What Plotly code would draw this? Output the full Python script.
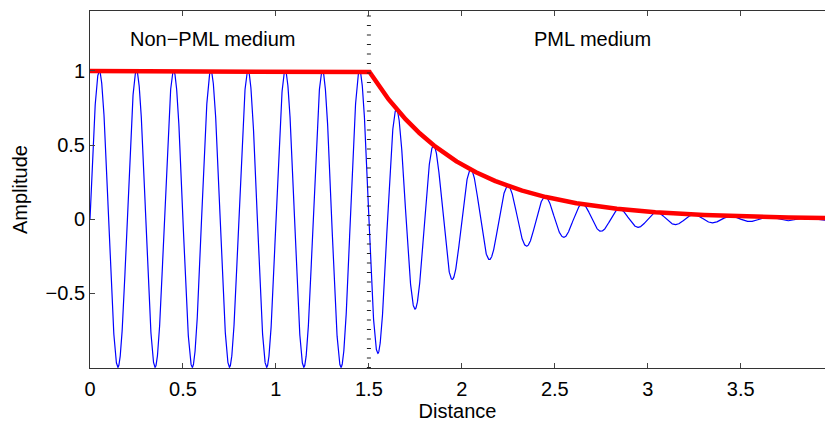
import numpy as np
import plotly.graph_objects as go

# Parameters
wavelength = [0.2]          # peak-to-peak spacing of the blue wave
pml_start = [1.5]           # boundary between media
decay_rate = [2.0]          # envelope decay inside PML (exp(-k (x-1.5)))
x_extent = [0.0, 3.953]
y_extent = [-1.005, 1.405]
xtick_vals = [0, 0.5, 1, 1.5, 2, 2.5, 3, 3.5]
xtick_text = ["0", "0.5", "1", "1.5", "2", "2.5", "3", "3.5"]
ytick_vals = [-0.5, 0, 0.5, 1]
ytick_text = ["\u22120.5", "0", "0.5", "1"]
labels = ["Non\u2212PML medium", "PML medium"]
label_x = [0.66, 2.70]
label_y = [1.215, 1.215]

x = np.linspace(x_extent[0], x_extent[1], 6000)
env = np.where(x < pml_start[0], 1.0, np.exp(-decay_rate[0] * (x - pml_start[0])))
wave = env * np.sin(2 * np.pi * x / wavelength[0])

fig = go.Figure()
fig.add_trace(go.Scatter(x=x, y=wave, mode="lines",
                         line=dict(color="#0000ff", width=1.2), hoverinfo="skip"))
fig.add_trace(go.Scatter(x=x, y=env, mode="lines",
                         line=dict(color="#ff0000", width=4.5), hoverinfo="skip"))

fig.add_shape(type="line", x0=pml_start[0], x1=pml_start[0], y0=y_extent[0], y1=y_extent[1],
              xref="x", yref="y", line=dict(color="#222222", width=4, dash="1px,8.5px"))

for t, lx, ly in zip(labels, label_x, label_y):
    fig.add_annotation(x=lx, y=ly, text=t, showarrow=False,
                       font=dict(family="Liberation Sans, Arial", size=20, color="black"))

fig.update_layout(
    width=825, height=428,
    margin=dict(l=90, r=0, t=11, b=60),
    paper_bgcolor="white", plot_bgcolor="white",
    showlegend=False,
    font=dict(family="Liberation Sans, Arial", size=20, color="black"),
)
fig.update_xaxes(range=x_extent, tickvals=xtick_vals, ticktext=xtick_text,
                 ticks="inside", ticklen=5, tickcolor="#444", showgrid=False, zeroline=False,
                 showline=True, linecolor="#333", linewidth=1, mirror="ticks",
                 tickfont=dict(size=20), ticklabelstandoff=3,
                 title=dict(text="Distance", font=dict(size=20), standoff=4))
fig.update_yaxes(range=y_extent, tickvals=ytick_vals, ticktext=ytick_text,
                 ticks="inside", ticklen=5, tickcolor="#444", showgrid=False, zeroline=False,
                 showline=True, linecolor="#333", linewidth=1, mirror=False,
                 tickfont=dict(size=20),
                 title=dict(text="Amplitude", font=dict(size=20), standoff=12))

fig.write_html("out.html")
